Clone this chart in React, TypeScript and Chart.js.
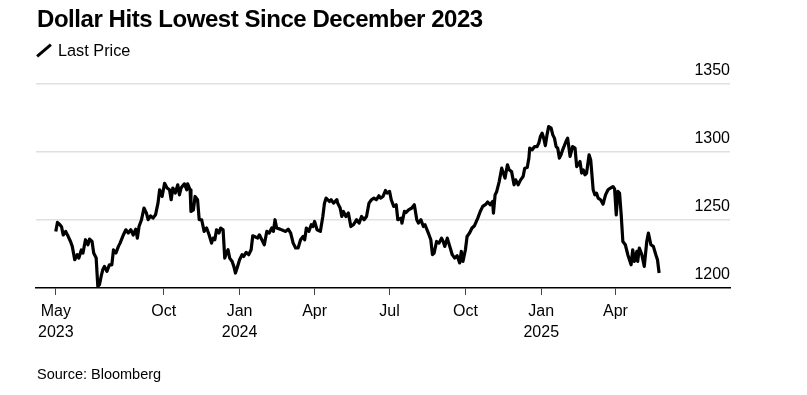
import React, { useEffect, useRef } from "react";
import { Chart, registerables } from "chart.js";

Chart.register(...registerables);

const FONT = "'Liberation Sans', Arial, Helvetica, sans-serif";

const titleText = "Dollar Hits Lowest Since December 2023";
const seriesName = "Last Price";
const sourceText = "Source: Bloomberg";

const dates = [
  "2023-05-23", "2023-05-25", "2023-05-28", "2023-05-30", "2023-06-01", "2023-06-04", "2023-06-07", "2023-06-10",
  "2023-06-12", "2023-06-15", "2023-06-18", "2023-06-20", "2023-06-23", "2023-06-25", "2023-06-28", "2023-07-01",
  "2023-07-03", "2023-07-06", "2023-07-08", "2023-07-11", "2023-07-13", "2023-07-15", "2023-07-17", "2023-07-19",
  "2023-07-21", "2023-07-24", "2023-07-27", "2023-07-30", "2023-08-01", "2023-08-04", "2023-08-07", "2023-08-09",
  "2023-08-13", "2023-08-16", "2023-08-19", "2023-08-22", "2023-08-25", "2023-08-28", "2023-08-30", "2023-09-01",
  "2023-09-04", "2023-09-07", "2023-09-10", "2023-09-12", "2023-09-15", "2023-09-18", "2023-09-21", "2023-09-24",
  "2023-09-26", "2023-09-29", "2023-10-02", "2023-10-05", "2023-10-08", "2023-10-10", "2023-10-12", "2023-10-15",
  "2023-10-18", "2023-10-20", "2023-10-22", "2023-10-26", "2023-10-29", "2023-10-30", "2023-11-02", "2023-11-03",
  "2023-11-06", "2023-11-08", "2023-11-11", "2023-11-13", "2023-11-16", "2023-11-19", "2023-11-22", "2023-11-25",
  "2023-11-28", "2023-11-30", "2023-12-02", "2023-12-04", "2023-12-07", "2023-12-09", "2023-12-12", "2023-12-14",
  "2023-12-16", "2023-12-18", "2023-12-20", "2023-12-23", "2023-12-25", "2023-12-27", "2023-12-29", "2024-01-01",
  "2024-01-04", "2024-01-06", "2024-01-09", "2024-01-12", "2024-01-15", "2024-01-17", "2024-01-19", "2024-01-23",
  "2024-01-25", "2024-01-28", "2024-01-31", "2024-02-03", "2024-02-06", "2024-02-09", "2024-02-11", "2024-02-13",
  "2024-02-15", "2024-02-19", "2024-02-23", "2024-02-26", "2024-02-29", "2024-03-03", "2024-03-06", "2024-03-09",
  "2024-03-12", "2024-03-15", "2024-03-18", "2024-03-20", "2024-03-22", "2024-03-25", "2024-03-28", "2024-03-30",
  "2024-04-01", "2024-04-04", "2024-04-08", "2024-04-11", "2024-04-13", "2024-04-15", "2024-04-19", "2024-04-21",
  "2024-04-24", "2024-04-28", "2024-04-29", "2024-05-02", "2024-05-04", "2024-05-06", "2024-05-09", "2024-05-12",
  "2024-05-15", "2024-05-18", "2024-05-22", "2024-05-25", "2024-05-28", "2024-05-31", "2024-06-03", "2024-06-06",
  "2024-06-09", "2024-06-12", "2024-06-15", "2024-06-18", "2024-06-20", "2024-06-23", "2024-06-26", "2024-06-28",
  "2024-07-01", "2024-07-03", "2024-07-06", "2024-07-09", "2024-07-11", "2024-07-15", "2024-07-16", "2024-07-19",
  "2024-07-21", "2024-07-24", "2024-07-28", "2024-07-31", "2024-08-03", "2024-08-05", "2024-08-08", "2024-08-11",
  "2024-08-13", "2024-08-17", "2024-08-20", "2024-08-22", "2024-08-24", "2024-08-27", "2024-08-30", "2024-09-02",
  "2024-09-04", "2024-09-06", "2024-09-09", "2024-09-12", "2024-09-15", "2024-09-18", "2024-09-21", "2024-09-24",
  "2024-09-26", "2024-09-28", "2024-10-01", "2024-10-03", "2024-10-06", "2024-10-09", "2024-10-12", "2024-10-16",
  "2024-10-19", "2024-10-22", "2024-10-26", "2024-10-28", "2024-10-31", "2024-11-03", "2024-11-04", "2024-11-06",
  "2024-11-08", "2024-11-11", "2024-11-14", "2024-11-16", "2024-11-18", "2024-11-21", "2024-11-23", "2024-11-26",
  "2024-11-29", "2024-12-01", "2024-12-04", "2024-12-07", "2024-12-10", "2024-12-12", "2024-12-15", "2024-12-17",
  "2024-12-18", "2024-12-21", "2024-12-24", "2024-12-27", "2024-12-29", "2024-12-31", "2025-01-02", "2025-01-04",
  "2025-01-06", "2025-01-08", "2025-01-10", "2025-01-13", "2025-01-15", "2025-01-17", "2025-01-19", "2025-01-21",
  "2025-01-23", "2025-01-25", "2025-01-27", "2025-01-31", "2025-02-02", "2025-02-05", "2025-02-08", "2025-02-11",
  "2025-02-13", "2025-02-17", "2025-02-19", "2025-02-21", "2025-02-23", "2025-02-25", "2025-02-28", "2025-03-02",
  "2025-03-05", "2025-03-07", "2025-03-09", "2025-03-11", "2025-03-14", "2025-03-17", "2025-03-20", "2025-03-23",
  "2025-03-26", "2025-03-29", "2025-03-31", "2025-04-02", "2025-04-04", "2025-04-06", "2025-04-08", "2025-04-10",
  "2025-04-13", "2025-04-16", "2025-04-20", "2025-04-22", "2025-04-24", "2025-04-27", "2025-04-28", "2025-04-30",
  "2025-05-03", "2025-05-06", "2025-05-09", "2025-05-11", "2025-05-14", "2025-05-17", "2025-05-20", "2025-05-22",
  "2025-05-24",
];

const prices = [
  1241.6, 1248.2, 1246.5, 1245.0, 1239.0, 1241.6, 1238.0, 1234.0,
  1230.6, 1220.8, 1224.5, 1222.0, 1228.0, 1225.7, 1235.5, 1231.8,
  1236.0, 1234.2, 1225.7, 1222.0, 1201.2, 1202.4, 1208.5, 1213.4,
  1215.9, 1212.2, 1217.0, 1217.0, 1228.0, 1225.7, 1230.6, 1233.0,
  1239.0, 1242.8, 1240.4, 1242.8, 1239.0, 1243.3, 1236.7, 1245.2,
  1250.2, 1258.8, 1255.0, 1250.2, 1253.0, 1251.4, 1253.8, 1262.4,
  1272.2, 1267.3, 1277.0, 1273.5, 1272.2, 1264.9, 1273.5, 1269.8,
  1275.9, 1268.5, 1273.5, 1276.6, 1272.2, 1276.6, 1272.2, 1256.3,
  1257.5, 1267.3, 1264.9, 1250.2, 1250.2, 1241.6, 1244.1, 1239.1,
  1233.0, 1236.7, 1235.5, 1242.8, 1240.4, 1244.1, 1242.8, 1222.0,
  1225.7, 1228.1, 1222.0, 1219.5, 1215.9, 1211.0, 1214.7, 1220.8,
  1224.5, 1223.2, 1226.2, 1224.5, 1228.1, 1238.4, 1237.9, 1236.7,
  1239.1, 1235.5, 1231.8, 1241.6, 1240.4, 1244.1, 1241.6, 1250.2,
  1244.1, 1243.3, 1242.3, 1241.6, 1243.3, 1240.4, 1233.0, 1229.4,
  1229.4, 1235.5, 1237.9, 1235.5, 1244.1, 1241.6, 1246.5, 1245.2,
  1248.9, 1242.8, 1241.6, 1252.6, 1262.4, 1266.1, 1263.6, 1264.9,
  1262.4, 1264.9, 1262.4, 1258.8, 1252.6, 1256.3, 1252.6, 1255.1,
  1245.2, 1246.5, 1250.2, 1247.7, 1252.6, 1250.2, 1252.6, 1262.4,
  1264.9, 1266.1, 1264.9, 1267.8, 1266.1, 1267.3, 1271.7, 1269.8,
  1271.0, 1264.9, 1260.0, 1261.2, 1250.2, 1251.4, 1247.7, 1256.3,
  1255.5, 1257.5, 1258.8, 1261.2, 1250.2, 1247.7, 1250.2, 1245.2,
  1246.5, 1240.4, 1235.5, 1224.5, 1225.7, 1234.2, 1233.0, 1236.7,
  1234.2, 1230.6, 1236.7, 1230.6, 1224.5, 1222.0, 1223.7, 1218.4,
  1226.9, 1219.5, 1228.1, 1237.9, 1240.4, 1244.1, 1245.8, 1251.4,
  1256.3, 1260.0, 1261.7, 1263.2, 1261.2, 1263.6, 1255.1, 1268.5,
  1271.0, 1278.3, 1288.1, 1284.5, 1280.8, 1290.6, 1286.9, 1285.6,
  1275.9, 1279.5, 1275.9, 1279.5, 1282.0, 1288.1, 1288.6, 1295.5,
  1302.8, 1301.6, 1304.0, 1304.0, 1306.5, 1311.4, 1313.9, 1310.2,
  1304.7, 1312.6, 1318.7, 1317.5, 1312.6, 1310.2, 1304.0, 1302.8,
  1295.5, 1297.9, 1301.6, 1307.7, 1310.2, 1296.7, 1304.0, 1302.8,
  1289.3, 1293.0, 1284.5, 1286.9, 1283.2, 1284.5, 1297.9, 1294.2,
  1272.2, 1268.5, 1269.8, 1266.1, 1264.9, 1261.7, 1268.5, 1272.2,
  1273.5, 1274.6, 1272.9, 1253.8, 1271.0, 1269.8, 1253.8, 1234.2,
  1231.8, 1224.5, 1217.1, 1228.1, 1219.5, 1226.9, 1219.5, 1229.4,
  1224.5, 1215.9, 1234.2, 1240.4, 1231.8, 1230.6, 1224.5, 1220.8,
  1211.0,
];

const yTickValues = [1200, 1250, 1300, 1350];

const xTickDates = [
  "2023-05-23", "2023-10-01", "2024-01-01", "2024-04-01",
  "2024-07-01", "2024-10-01", "2025-01-01", "2025-04-01",
];
const xTickLabels = [
  ["May", "2023"], ["Oct"], ["Jan", "2024"], ["Apr"],
  ["Jul"], ["Oct"], ["Jan", "2025"], ["Apr"],
];
const xMinDate = "2023-04-29";
const xMaxDate = "2025-08-18";

const dayNum = (s: string) => {
  const [y, m, d] = s.split("-").map(Number);
  return Date.UTC(y, m - 1, d) / 86400000;
};

export default function App() {
  const ref = useRef<HTMLCanvasElement>(null);

  useEffect(() => {
    document.body.style.margin = "0";
    const yLabelPlugin = {
      id: "yLabelPlugin",
      afterDraw(chart: any) {
        const { ctx, chartArea, scales } = chart;
        const ys = scales.y;
        ctx.save();
        ctx.font = `16px ${FONT}`;
        ctx.fillStyle = "#000";
        ctx.textAlign = "right";
        ctx.textBaseline = "alphabetic";
        ys.ticks.forEach((t: any) => {
          ctx.fillText(String(t.value), chartArea.right, ys.getPixelForValue(t.value) - 9);
        });
        ctx.restore();
      },
    };

    const chart = new Chart(ref.current as HTMLCanvasElement, {
      type: "line",
      data: {
        datasets: [
          {
            label: seriesName,
            data: dates.map((d, i) => ({ x: dayNum(d), y: prices[i] })),
            borderColor: "#000",
            borderWidth: 3.2,
            pointRadius: 0,
            tension: 0,
            borderJoinStyle: "round",
            clip: false as any,
          },
        ],
      },
      options: {
        responsive: false,
        animation: false,
        events: [],
        layout: { padding: { left: 36, right: 77, top: 84, bottom: 47 } },
        plugins: { legend: { display: false }, tooltip: { enabled: false } },
        scales: {
          x: {
            type: "linear",
            min: dayNum(xMinDate),
            max: dayNum(xMaxDate),
            afterBuildTicks: (s: any) => {
              s.ticks = xTickDates.map((d) => ({ value: dayNum(d) }));
            },
            afterFit: (s: any) => {
              s.height = 60;
            },
            ticks: {
              autoSkip: false,
              maxRotation: 0,
              minRotation: 0,
              padding: 6,
              color: "#000",
              font: { family: FONT, size: 16, lineHeight: 1.3 },
              callback: (_v: any, i: number) => xTickLabels[i],
            },
            grid: {
              drawOnChartArea: false,
              drawTicks: true,
              tickLength: 7,
              tickColor: "#444",
              tickWidth: 1,
            },
            border: { display: true, color: "#000", width: 1.5 },
          },
          y: {
            position: "right",
            min: 1200,
            max: 1350,
            afterBuildTicks: (s: any) => {
              s.ticks = yTickValues.map((v) => ({ value: v }));
            },
            afterFit: (s: any) => {
              s.width = 0;
            },
            ticks: { display: false },
            grid: {
              color: (c: any) => (c.tick && c.tick.value === 1200 ? "rgba(0,0,0,0)" : "#e0e0e0"),
              lineWidth: 1.5,
              drawTicks: false,
            },
            border: { display: false },
          },
        },
      },
      plugins: [yLabelPlugin],
    } as any);
    return () => chart.destroy();
  }, []);

  return (
    <div style={{ position: "relative", width: 807, height: 395, fontFamily: FONT, color: "#000", background: "#fff" }}>
      <style>{"body{margin:0}"}</style>
      <canvas ref={ref} width={807} height={395} style={{ position: "absolute", left: 0, top: 0 }} />
      <div style={{ position: "absolute", left: 37, top: 7, fontSize: 24, fontWeight: 700, lineHeight: 1, letterSpacing: -0.45, whiteSpace: "nowrap" }}>
        {titleText}
      </div>
      <div style={{ position: "absolute", left: 34.7, top: 48.7, width: 18, height: 3, background: "#000", transform: "rotate(-40deg)" }} />
      <div style={{ position: "absolute", left: 58, top: 41.5, fontSize: 16.3, lineHeight: 1, whiteSpace: "nowrap" }}>
        {seriesName}
      </div>
      <div style={{ position: "absolute", left: 37, top: 367, fontSize: 14.5, lineHeight: 1, whiteSpace: "nowrap" }}>
        {sourceText}
      </div>
    </div>
  );
}
